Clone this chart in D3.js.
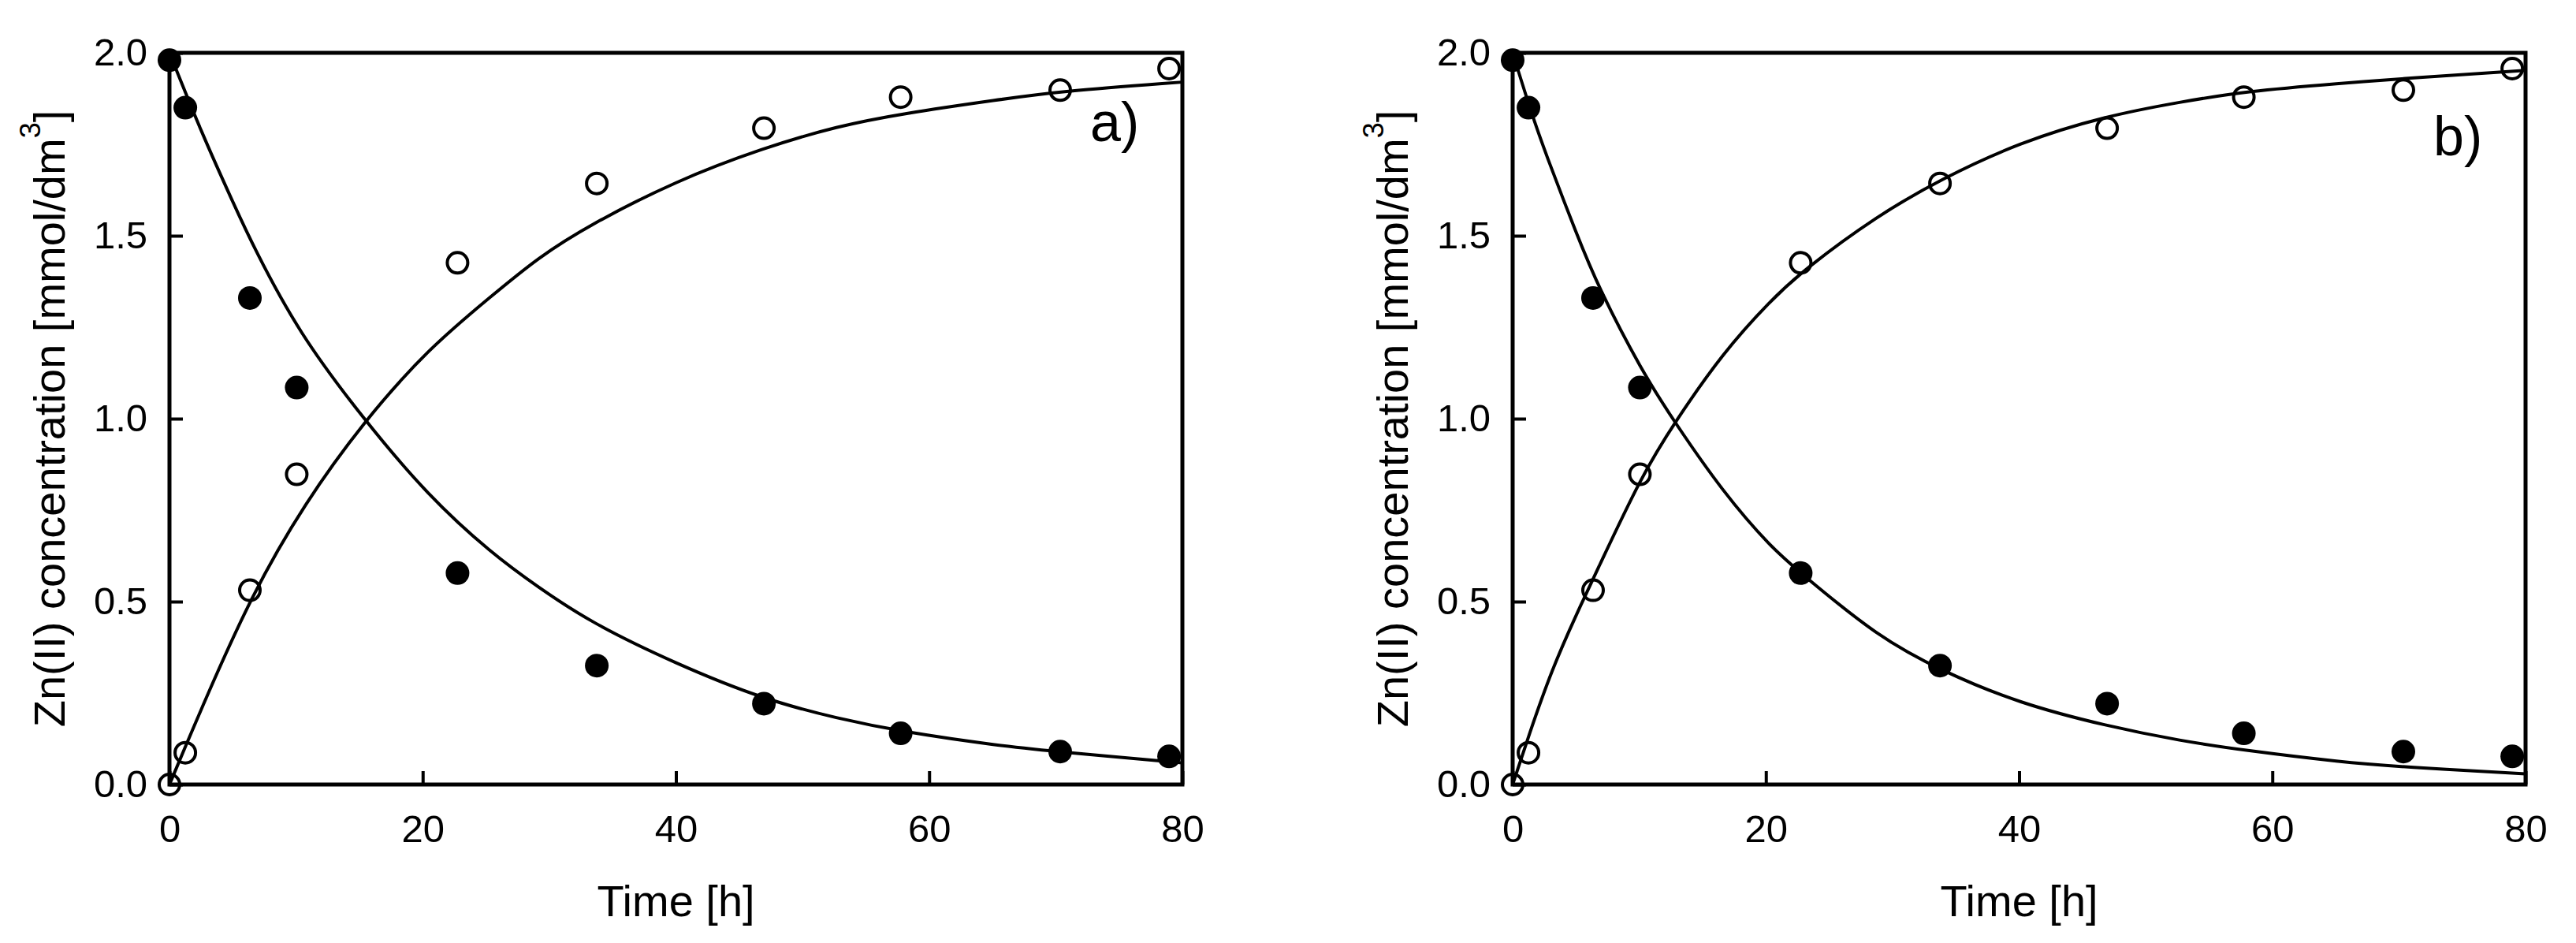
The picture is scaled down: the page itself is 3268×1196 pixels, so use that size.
<!DOCTYPE html>
<html>
<head>
<meta charset="utf-8">
<script src="https://cdn.jsdelivr.net/npm/d3@7"></script>
<style>
  body { margin: 0; background: #fff; }
  text { font-family: "Liberation Sans", Arial, sans-serif; fill: #000; }
</style>
</head>
<body>
<script>
// measured points (same in both panels)
let times = [0, 1.25, 6.35, 10.05, 22.75, 33.75, 46.95, 57.75, 70.35, 78.95];
let solidVals = [1.98, 1.85, 1.33, 1.085, 0.578, 0.325, 0.221, 0.14, 0.09, 0.077];
let openVals = [0, 0.087, 0.531, 0.848, 1.426, 1.643, 1.794, 1.879, 1.898, 1.957];

// fitted curves, panel a
let decayTimesA = [0, 2.55, 5.1, 6.63, 10.2, 15.3, 20.4, 25.5, 29.1, 33.2, 40, 46.9, 52.8, 57.9, 65.5, 70.4, 80];
let decayA = [2.0, 1.78, 1.585, 1.47, 1.235, 1.0, 0.79, 0.63, 0.54, 0.444, 0.33, 0.233, 0.18, 0.144, 0.106, 0.089, 0.059];
let riseTimesA = [0, 1.28, 2.55, 6.5, 10.7, 15.3, 20.4, 25.5, 29.1, 33.2, 40, 46.9, 52.8, 57.9, 65.5, 70.4, 80];
let riseA = [0, 0.105, 0.21, 0.52, 0.77, 0.99, 1.19, 1.337, 1.44, 1.53, 1.65, 1.74, 1.80, 1.834, 1.872, 1.895, 1.92];

// fitted curves, panel b
let decayTimesB = [0, 1.53, 2.55, 5.1, 6.76, 10.2, 12.8, 16.6, 20.4, 23, 28.8, 33.9, 40, 46.9, 52.8, 57.9, 65.5, 70.4, 80];
let decayB = [2.0, 1.83, 1.73, 1.50, 1.36, 1.13, 0.99, 0.80, 0.648, 0.571, 0.405, 0.31, 0.222, 0.16, 0.119, 0.093, 0.061, 0.048, 0.029];
let riseTimesB = [0, 1.28, 3.1, 5.1, 6.4, 10.2, 12.8, 16.6, 20.4, 23, 28.8, 33.9, 40, 46.9, 52.8, 57.9, 65.5, 70.4, 80];
let riseB = [0, 0.135, 0.315, 0.47, 0.565, 0.846, 0.99, 1.18, 1.324, 1.407, 1.555, 1.656, 1.755, 1.828, 1.866, 1.895, 1.917, 1.93, 1.952];

let xTicks = [0, 20, 40, 60, 80];
let yTicks = [0, 0.5, 1.0, 1.5, 2.0];
let panelLabels = ['a)', 'b)'];

let width = 3268, height = 1196;
let svg = d3.select('body').append('svg').attr('width', width).attr('height', height);

let panels = [
  { left: 215, label: panelLabels[0], labelY: 179, decayT: decayTimesA, decay: decayA, riseT: riseTimesA, rise: riseA },
  { left: 1919, label: panelLabels[1], labelY: 197, decayT: decayTimesB, decay: decayB, riseT: riseTimesB, rise: riseB }
];
let plotW = 1285, plotTop = 67, plotBottom = 995;

panels.forEach(function(p) {
  let x = d3.scaleLinear().domain([0, 80]).range([p.left, p.left + plotW]);
  let y = d3.scaleLinear().domain([0, 2]).range([plotBottom, plotTop]);
  let g = svg.append('g');

  let line = d3.line()
    .x(function(d) { return x(d[0]); })
    .y(function(d) { return y(d[1]); })
    .curve(d3.curveBasis);

  // axes with inward ticks
  let yAxis = g.append('g').attr('transform', 'translate(' + p.left + ',0)')
    .call(d3.axisLeft(y).tickValues(yTicks).tickFormat(d3.format('.1f')).tickSizeInner(-17).tickSizeOuter(0).tickPadding(28));
  let xAxis = g.append('g').attr('transform', 'translate(0,' + plotBottom + ')')
    .call(d3.axisBottom(x).tickValues(xTicks).tickFormat(d3.format('d')).tickSizeInner(-17).tickSizeOuter(0).tickPadding(38));
  [yAxis, xAxis].forEach(function(a) {
    a.select('.domain').remove();
    a.attr('font-family', null).attr('font-size', null);
    a.selectAll('line').attr('stroke', '#000').attr('stroke-width', 4);
    a.selectAll('text').style('font-size', '49px');
  });

  // frame
  g.append('rect').attr('x', p.left).attr('y', plotTop).attr('width', plotW).attr('height', plotBottom - plotTop)
    .attr('fill', 'none').attr('stroke', '#000').attr('stroke-width', 5);

  // fitted curves
  g.append('path').datum(d3.zip(p.decayT, p.decay)).attr('d', line)
    .attr('fill', 'none').attr('stroke', '#000').attr('stroke-width', 4);
  g.append('path').datum(d3.zip(p.riseT, p.rise)).attr('d', line)
    .attr('fill', 'none').attr('stroke', '#000').attr('stroke-width', 4);

  // measured points
  g.selectAll('circle.solid').data(d3.zip(times, solidVals)).enter().append('circle')
    .attr('class', 'solid').attr('cx', function(d) { return x(d[0]); }).attr('cy', function(d) { return y(d[1]); })
    .attr('r', 15).attr('fill', '#000');
  g.selectAll('circle.open').data(d3.zip(times, openVals)).enter().append('circle')
    .attr('class', 'open').attr('cx', function(d) { return x(d[0]); }).attr('cy', function(d) { return y(d[1]); })
    .attr('r', 13).attr('fill', 'none').attr('stroke', '#000').attr('stroke-width', 4);

  // axis titles
  g.append('text').attr('x', p.left + plotW / 2).attr('y', 1162).attr('text-anchor', 'middle')
    .style('font-size', '56px').text('Time [h]');

  let yt = g.append('text').attr('transform', 'translate(' + (p.left - 133) + ',' + ((plotTop + plotBottom) / 2) + ') rotate(-90)')
    .attr('text-anchor', 'middle').style('font-size', '56px');
  yt.append('tspan').text('Zn(II) concentration [mmol/dm');
  yt.append('tspan').attr('dy', -31).style('font-size', '36px').text('3');
  yt.append('tspan').attr('dy', 31).text(']');

  // panel label
  g.append('text').attr('x', p.left + 1168).attr('y', p.labelY).style('font-size', '70px').text(p.label);
});
</script>
</body>
</html>
